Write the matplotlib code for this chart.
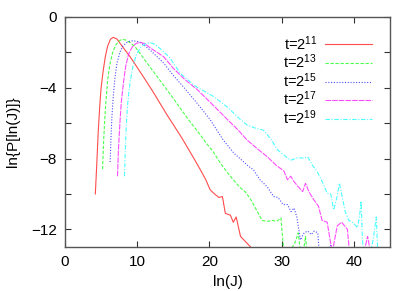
import matplotlib
matplotlib.use('Agg')
import matplotlib.pyplot as plt
from matplotlib.ticker import MultipleLocator

plt.rcParams['font.family'] = ['Liberation Sans', 'DejaVu Sans']
plt.rcParams['mathtext.fontset'] = 'custom'
plt.rcParams['mathtext.rm'] = 'Liberation Sans'
plt.rcParams['mathtext.it'] = 'Liberation Sans'

# t = 2^11
x11 = [4.2, 4.4, 4.6, 4.8, 5.0, 5.3, 5.6, 5.9, 6.3, 6.7, 7.2, 8.0, 9.0, 10, 12, 14, 16.2, 18, 18.75,
       19.5, 20.1, 20.7, 21.3, 21.8, 22.2, 22.9, 23.3, 23.7, 24.3, 25.0, 25.7, 26.2]
y11 = [-10.0, -8.3, -6.5, -5.1, -4.0, -3.0, -2.2, -1.65, -1.25, -1.15, -1.25, -1.7, -2.24, -2.85, -4.1,
       -5.45, -6.85, -8.1, -8.64, -9.2, -9.77, -10.0, -10.2, -10.15, -11.1, -11.2, -11.6, -11.3, -12.4,
       -12.7, -13.0, -13.3]

# t = 2^13
x13 = [5.2, 5.35, 5.5, 5.7, 5.9, 6.2, 6.6, 7.0, 7.5, 7.9, 8.4, 9.0, 9.7, 11, 13, 15, 17, 18.75, 19.5,
       20.5, 21.5, 22.5, 23.5, 24.3, 25.0, 25.7, 26.5, 27.3, 28.0, 28.7, 29.3, 29.9, 30.3, 31.0, 31.8,
       32.3, 32.6, 33.0, 33.3, 33.5]
y13 = [-8.6, -7.0, -5.8, -4.6, -3.6, -2.7, -2.0, -1.6, -1.35, -1.26, -1.3, -1.45, -1.68, -2.4, -3.5,
       -4.6, -5.75, -6.67, -7.1, -7.6, -8.25, -8.8, -9.3, -9.66, -9.9, -10.3, -10.9, -11.5, -11.55,
       -11.5, -11.55, -11.36, -13.3, -13.3, -12.8, -12.2, -13.3, -13.3, -12.4, -13.3]

# t = 2^15
x15 = [6.25, 6.35, 6.5, 6.7, 6.9, 7.2, 7.6, 8.0, 8.5, 9.0, 9.5, 10.2, 11, 12, 13.65, 15, 16.5, 18.3,
       20.1, 21.9, 23.4, 24.5, 25.3, 26.1, 27, 28, 28.9, 29.5, 30.2, 30.8, 31.3, 31.7, 32.1, 32.6, 33.1,
       33.6, 34.1, 34.5, 35.0, 35.2, 36.0, 36.8, 37.2]
y15 = [-8.2, -7.0, -5.6, -4.4, -3.5, -2.6, -2.0, -1.65, -1.45, -1.36, -1.35, -1.4, -1.6, -1.95, -2.6,
       -3.3, -4.0, -4.88, -5.8, -6.95, -7.7, -8.1, -8.4, -8.64, -9.2, -9.6, -10.15, -10.2, -10.6, -10.6,
       -11.0, -10.8, -11.3, -12.6, -12.2, -12.1, -12.3, -12.1, -12.2, -13.3, -13.3, -12.9, -13.3]

# t = 2^17
x17 = [7.27, 7.4, 7.6, 7.8, 8.1, 8.4, 8.8, 9.3, 9.8, 10.4, 11, 12, 13.65, 15, 16.5, 18.3, 20.3, 22.5,
       24, 25.2, 26.5, 28, 29.3, 30.3, 30.8, 31.25, 31.7, 32.3, 32.9, 33.3, 33.8, 34.4, 35.1, 35.6,
       36.3, 37.0, 37.7, 38.3, 39.1, 39.4, 40.5, 41.4, 41.9, 42.3]
y17 = [-9.0, -7.5, -6.0, -4.8, -3.7, -2.8, -2.1, -1.7, -1.5, -1.43, -1.5, -1.8, -2.24, -2.9, -3.5,
       -4.1, -4.9, -5.8, -6.4, -6.95, -7.4, -7.9, -8.4, -8.7, -9.2, -9.0, -9.3, -9.6, -9.87, -9.4, -9.9,
       -10.3, -10.7, -11.5, -11.6, -13.3, -11.8, -11.6, -12.0, -13.3, -13.3, -13.3, -12.4, -13.3]

# t = 2^19
x19 = [8.24, 8.35, 8.5, 8.7, 9.0, 9.4, 9.9, 10.5, 11.2, 11.8, 12.5, 13.5, 14.5, 16, 18, 20.6, 22.5,
       24.3, 25.2, 26.5, 27.5, 28.5, 29.4, 30.3, 31.25, 32.2, 33.1, 33.6, 34.3, 35, 35.6, 36.3, 36.8,
       37.2, 37.6, 38.0, 38.4, 38.8, 39.3, 39.8, 40.5, 40.8, 41.0, 41.2, 41.4, 41.8, 42.3, 42.7, 43.1,
       43.3]
y19 = [-9.0, -7.5, -6.0, -4.8, -3.7, -2.8, -2.1, -1.7, -1.5, -1.45, -1.55, -1.9, -2.3, -3.2, -3.9,
       -4.5, -5.1, -5.8, -6.1, -6.3, -6.4, -6.9, -7.5, -7.8, -8.1, -7.95, -7.98, -7.9, -8.4, -8.8, -9.3,
       -9.96, -10.0, -10.9, -10.3, -9.4, -10.2, -11.0, -11.5, -11.6, -11.9, -11.2, -10.4, -12.7, -13.3,
       -13.3, -13.3, -12.5, -11.3, -13.3]

series = [
    (x11, y11, '11', '#ff0000', '-'),
    (x13, y13, '13', '#00ff00', (0, (3, 1.5))),
    (x15, y15, '15', '#0000ff', (0, (1, 1.5))),
    (x17, y17, '17', '#ff00ff', (0, (5, 1))),
    (x19, y19, '19', '#00ffff', (0, (4, 1.5, 1, 1.5))),
]

fig = plt.figure(figsize=(4.15, 2.91), dpi=100)
ax = fig.add_axes([65 / 415, 1 - 247 / 291, 325 / 415, 230 / 291])

for x, y, p, c, ls in series:
    ax.plot(x, y, color=c, linestyle=ls, linewidth=0.8, alpha=0.7, label='t=2$^{' + p + '}$')

ax.set_xlim(0, 45)
ax.set_ylim(-13, 0)
ax.xaxis.set_major_locator(MultipleLocator(10))
ax.yaxis.set_major_locator(MultipleLocator(4))
ax.yaxis.set_minor_locator(MultipleLocator(2))
ax.tick_params(which='both', direction='in', top=True, right=True, labelsize=11,
               length=4, width=0.8, color='#333333', pad=6)
for s in ax.spines.values():
    s.set_color('#555555')
    s.set_linewidth(1.0)

ax.set_xlabel('ln(J)', fontsize=11, labelpad=4)
ax.set_ylabel('ln{P[ln(J)]}', fontsize=11, labelpad=8)

ax.legend(loc='upper right', bbox_to_anchor=(372 / 415, 1 - 34 / 291),
          bbox_transform=fig.transFigure, frameon=False, markerfirst=False,
          fontsize=10.5, handlelength=3.2, handletextpad=0.55, labelspacing=0.0,
          borderpad=0, borderaxespad=0)

fig.savefig('out.png', dpi=100)
